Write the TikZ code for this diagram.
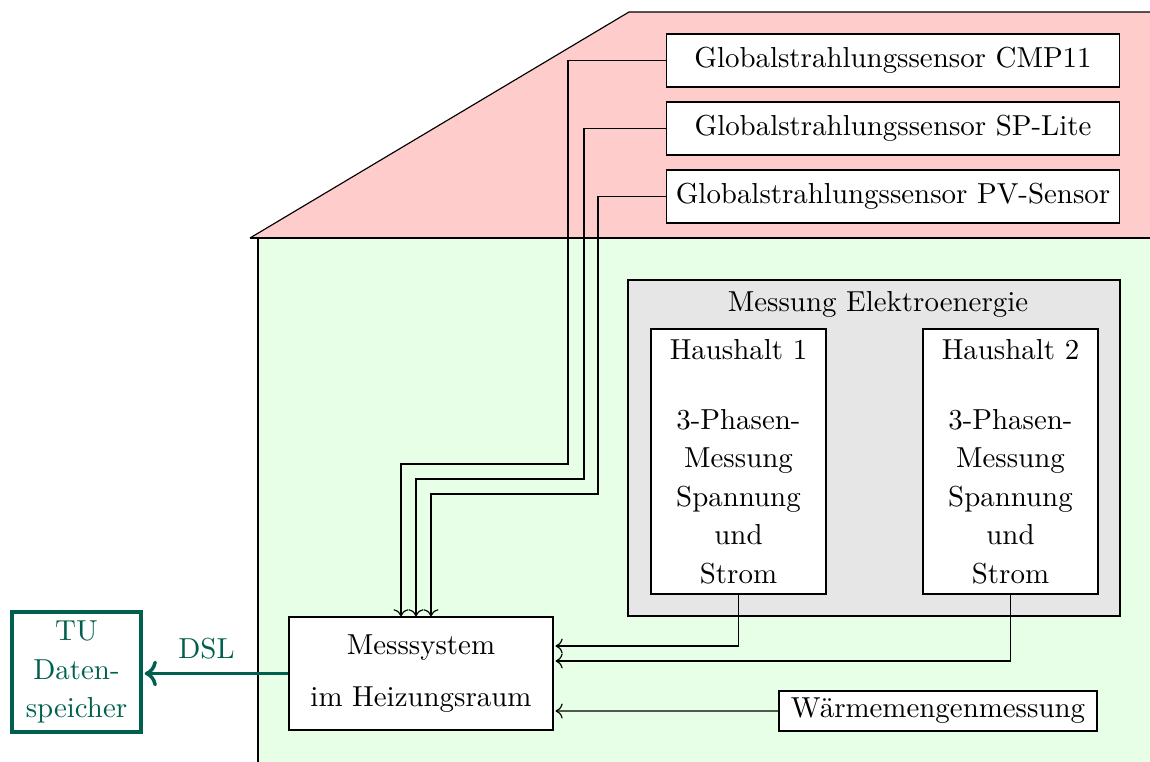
\documentclass[tikz,border=0pt]{standalone}
\usepackage{xcolor}
\usepackage{tikz}
\usetikzlibrary{arrows.meta, positioning, calc}
\definecolor{roofred}{HTML}{FFCCCC}
\definecolor{wallgreen}{HTML}{E6FFE6}
\definecolor{boxgray}{HTML}{E6E6E6}
\definecolor{tugreen}{HTML}{00604E}
\tikzset{
  sensorbox/.style={draw, fill=white, inner sep=0pt, minimum width=157pt, minimum height=18.3pt},
  hhbox/.style={draw, fill=white, inner sep=0pt, align=center, minimum width=60.6pt, minimum height=91.7pt,
    font=\linespread{1.11}\selectfont},
  systembox/.style={draw, fill=white, inner sep=0pt, align=center, minimum width=91.3pt, minimum height=39.1pt},
  tubox/.style={draw=tugreen, line width=1.2pt, text=tugreen, inner sep=0pt, align=center,
    minimum width=44.6pt, minimum height=41.5pt, font=\linespread{1.1}\selectfont},
}

\begin{document}
\begin{tikzpicture}[x=0.346pt,y=-0.346pt]
\useasboundingbox (0,0) rectangle (1150,762);
% house
\fill[roofred] (250,238) -- (629,12) -- (1150,12) -- (1150,238) -- cycle;
\draw (250,238) -- (629,12) -- (1150,12);
\fill[wallgreen] (258,238) rectangle (1150,762);
\draw (250,238) -- (1150,238);
\draw (258,238) -- (258,762);
% sensors on the roof
\node[sensorbox] (cmp)  at (893,60.5)  {Globalstrahlungssensor CMP11};
\node[sensorbox] (sp)   at (893,128.5) {Globalstrahlungssensor SP-Lite};
\node[sensorbox] (pv)   at (893,196.5) {Globalstrahlungssensor PV-Sensor};
% electric energy
\filldraw[fill=boxgray] (628,280) rectangle (1120,616);
\node (elektro) at (878,304) {Messung Elektroenergie};
\node[hhbox] (hh1) at (738.5,461.5) {Haushalt 1\\[11pt]3-Phasen-\\Messung\\Spannung\\und\\Strom};
\node[hhbox] (hh2) at (1010.5,461.5) {Haushalt 2\\[11pt]3-Phasen-\\Messung\\Spannung\\und\\Strom};
% measuring system
\node[systembox] (mess) at (421,673.5) {Messsystem\\[6pt]im Heizungsraum};
\node[draw, fill=white, inner sep=0pt, minimum width=110pt, minimum height=13.8pt] (waerme) at (938,711) {W\"armemengenmessung};
\node[tubox] (tu) at (76.5,672) {TU\\Daten-\\speicher};
% connectors
\draw[->] (cmp.west) -| (568,464) -| ($(mess.north)+(-20,0)$);
\draw[->] (sp.west) -| (584,479) -| ($(mess.north)+(-5,0)$);
\draw[->] (pv.west) -| (598,494) -| ($(mess.north)+(10,0)$);
\draw[->] (hh1.south) |- ($(mess.east)+(2,-27.5)$);
\draw[->] (hh2.south) |- ($(mess.east)+(2,-12.5)$);
\draw[->] (waerme.west) -- ($(mess.east)+(2,37.5)$);
\draw[->, tugreen, line width=1.2pt] (mess.west) -- ($(tu.east)+(2,1.5)$)
  node[midway, above=1pt, xshift=-3.5pt] {DSL};
\end{tikzpicture}
\end{document}
